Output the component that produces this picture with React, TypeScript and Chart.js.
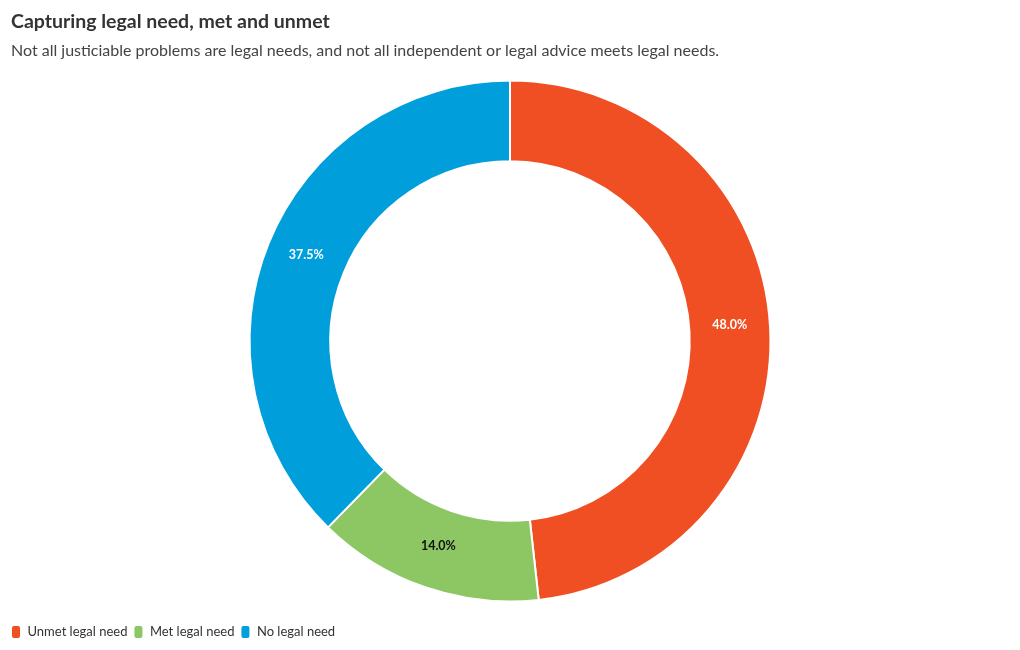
import React, { useEffect, useRef } from "react";
import { Chart, registerables } from "chart.js";

Chart.register(...registerables);

const categories = ["Unmet legal need", "Met legal need", "No legal need"];
const values = [48.0, 14.0, 37.5];
const colors = ["#F04F23", "#8CC763", "#009EDB"];
const labelColors = ["#ffffff", "#111111", "#ffffff"];
const titleText = "Capturing legal need, met and unmet";
const subtitleText =
  "Not all justiciable problems are legal needs, and not all independent or legal advice meets legal needs.";

const FONT = "Lato, 'Source Sans Pro', sans-serif";

const sliceLabels = {
  id: "sliceLabels",
  afterDatasetsDraw(chart: any) {
    const ctx = chart.ctx;
    const meta = chart.getDatasetMeta(0);
    ctx.save();
    ctx.font = `bold 12.5px ${FONT}`;
    ctx.textAlign = "center";
    ctx.textBaseline = "middle";
    meta.data.forEach((arc: any, i: number) => {
      const p = arc.getProps(["x", "y", "startAngle", "endAngle", "innerRadius", "outerRadius"], true);
      const a = (p.startAngle + p.endAngle) / 2;
      const r = (p.innerRadius + p.outerRadius) / 2;
      ctx.fillStyle = labelColors[i];
      ctx.fillText(values[i].toFixed(1) + "%", p.x + Math.cos(a) * r, p.y + Math.sin(a) * r - 3.5);
    });
    ctx.restore();
  },
};

// nudge the legend box to sit flush-left and lower, like the reference
const legendOffset = {
  id: "legendOffset",
  afterLayout(chart: any) {
    if (chart.legend) {
      chart.legend.left -= 6;
      chart.legend.right -= 6;
      chart.legend.top += 16.5;
      chart.legend.bottom += 16.5;
    }
  },
};

export default function App() {
  const ref = useRef<HTMLCanvasElement>(null);
  useEffect(() => {
    if (!ref.current) return;
    const chart = new Chart(ref.current, {
      type: "doughnut",
      data: {
        labels: categories,
        datasets: [
          {
            data: values,
            backgroundColor: colors,
            borderColor: "#ffffff",
            borderWidth: 2,
          },
        ],
      },
      options: {
        animation: false,
        responsive: false,
        cutout: "69%",
        layout: { padding: { left: 3, right: 3, top: 0, bottom: 9.5 } },
        plugins: {
          title: {
            display: true,
            text: titleText,
            align: "start",
            color: "#333333",
            font: { family: FONT, size: 19.5, weight: "bold" },
            padding: { top: 2, bottom: 8 },
          },
          subtitle: {
            display: true,
            text: subtitleText,
            align: "start",
            color: "#444444",
            font: { family: FONT, size: 16 },
            padding: { top: 0, bottom: 19 },
          },
          legend: {
            position: "bottom",
            align: "start",
            labels: {
              boxWidth: 10,
              boxHeight: 14,
              useBorderRadius: true,
              borderRadius: 3,
              color: "#333333",
              padding: 6,
              font: { family: FONT, size: 13 },
            },
          },
          tooltip: { enabled: false },
        },
      } as any,
      plugins: [sliceLabels, legendOffset],
    });
    return () => chart.destroy();
  }, []);
  return (
    <div style={{ width: 1004, height: 634 }}>
      <canvas ref={ref} width={1004} height={634} style={{ display: "block" }} />
    </div>
  );
}
